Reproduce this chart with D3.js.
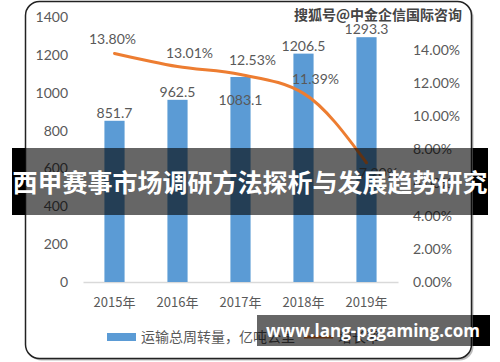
<!DOCTYPE html>
<html>
<head>
<meta charset="utf-8">
<script src="https://cdn.jsdelivr.net/npm/d3@7"></script>
<style>
  body { margin: 0; background: #fff; }
  svg { display: block; }
</style>
</head>
<body>
<script>
// chart data
const years = ["2015年", "2016年", "2017年", "2018年", "2019年"];
const volume = [851.7, 962.5, 1083.1, 1206.5, 1293.3];
const growth = [0.1380, 0.1301, 0.1253, 0.1139, 0.0720];
const leftTicks = [0, 200, 400, 600, 800, 1000, 1200, 1400];
const rightTicks = [0, 0.02, 0.04, 0.06, 0.08, 0.10, 0.12, 0.14];
const legendLabels = ["运输总周转量，亿吨公里", "增长率"];
const title = "西甲赛事市场调研方法探析与发展趋势研究";
const watermark = "搜狐号@中金企信国际咨询";
const site = "www.lang-pggaming.com";

const W = 500, H = 362;
const grey = "#595959";
const blue = "#5B9BD5";
const orange = "#ED7D31";
const numFont = "Lato, 'Liberation Sans', sans-serif";
const cjkFont = "'Noto Sans CJK SC', sans-serif";

const svg = d3.select("body").append("svg")
    .attr("width", W)
    .attr("height", H);

// frame with soft shadow
svg.append("rect")
    .attr("x", 27.5).attr("y", 3.5)
    .attr("width", 446).attr("height", 357)
    .attr("rx", 14)
    .attr("fill", "#bbb");
svg.append("rect")
    .attr("x", 25.5).attr("y", 1.5)
    .attr("width", 446).attr("height", 357)
    .attr("rx", 14)
    .attr("fill", "#fff")
    .attr("stroke", "#222")
    .attr("stroke-width", 1.5);

// scales
const x = d3.scaleBand()
    .domain(years)
    .range([83, 398])
    .paddingInner(0.68)
    .paddingOuter(0.34);

const yL = d3.scaleLinear().domain([0, 1400]).range([282, 17]);
const yR = d3.scaleLinear().domain([0, 0.16]).range([282, 17]);

// axes
const xAxis = svg.append("g")
    .attr("transform", "translate(0,282)")
    .call(d3.axisBottom(x).tickSize(0).tickPadding(16));
xAxis.select(".domain").attr("stroke", "#d9d9d9").attr("stroke-width", 1.5);
xAxis.selectAll("text")
    .attr("fill", grey)
    .style("font-family", cjkFont)
    .style("font-size", "13px");

const leftAxis = svg.append("g")
    .attr("transform", "translate(71,0)")
    .call(d3.axisLeft(yL).tickValues(leftTicks).tickSize(0).tickPadding(3)
        .tickFormat(d3.format("d")));
leftAxis.select(".domain").remove();
leftAxis.selectAll("text")
    .attr("fill", grey)
    .style("font-family", numFont)
    .style("font-size", "14px");

const rightAxis = svg.append("g")
    .attr("transform", "translate(410,0)")
    .call(d3.axisRight(yR).tickValues(rightTicks).tickSize(0).tickPadding(3)
        .tickFormat(d3.format(".2%")));
rightAxis.select(".domain").remove();
rightAxis.selectAll("text")
    .attr("fill", grey)
    .style("font-family", numFont)
    .style("font-size", "14px");

// bars
svg.selectAll(".bar")
    .data(volume)
    .enter()
    .append("rect")
    .attr("class", "bar")
    .attr("x", (d, i) => x(years[i]))
    .attr("y", d => yL(d))
    .attr("width", x.bandwidth())
    .attr("height", d => yL(0) - yL(d))
    .attr("fill", blue);

// growth line
const line = d3.line()
    .x((d, i) => x(years[i]) + x.bandwidth() / 2)
    .y(d => yR(d))
    .curve(d3.curveMonotoneX);

svg.append("path")
    .datum(growth)
    .attr("d", line)
    .attr("fill", "none")
    .attr("stroke", orange)
    .attr("stroke-width", 3)
    .attr("stroke-linecap", "round");

// line labels (last point sits low, so its label goes below)
const last = growth.length - 1;
const lineLabelY = growth.map((d, i) => i == last ? yR(d) + 15 : yR(d) - 9);
svg.selectAll(".glabel")
    .data(growth)
    .enter()
    .append("text")
    .attr("x", (d, i) => x(years[i]) + x.bandwidth() / 2 + (i == 0 ? -2 : 12))
    .attr("y", (d, i) => lineLabelY[i])
    .attr("text-anchor", "middle")
    .attr("fill", grey)
    .style("font-family", numFont)
    .style("font-size", "14px")
    .text(d => d3.format(".2%")(d));

// bar labels, pushed inside the bar when they would hit a line label
svg.selectAll(".blabel")
    .data(volume)
    .enter()
    .append("text")
    .attr("x", (d, i) => x(years[i]) + x.bandwidth() / 2)
    .attr("y", (d, i) => {
        let yy = yL(d) - 3;
        if (Math.abs(yy - lineLabelY[i]) < 14) yy = yL(d) + 28;
        return yy;
    })
    .attr("text-anchor", "middle")
    .attr("fill", grey)
    .style("font-family", numFont)
    .style("font-size", "14px")
    .text(d => d);

// legend
const lg = svg.append("g");
lg.append("rect")
    .attr("x", 107).attr("y", 333)
    .attr("width", 29).attr("height", 8)
    .attr("fill", blue);
lg.append("text")
    .attr("x", 141).attr("y", 342)
    .attr("fill", grey)
    .style("font-family", cjkFont)
    .style("font-size", "14px")
    .text(legendLabels[0]);
lg.append("line")
    .attr("x1", 304).attr("x2", 333)
    .attr("y1", 337).attr("y2", 337)
    .attr("stroke", orange)
    .attr("stroke-width", 3);
lg.append("text")
    .attr("x", 338).attr("y", 342)
    .attr("fill", grey)
    .style("font-family", cjkFont)
    .style("font-size", "14px")
    .text(legendLabels[1]);

// watermark top right
svg.append("text")
    .attr("x", 378).attr("y", 20)
    .attr("text-anchor", "middle")
    .attr("fill", "#444")
    .attr("stroke", "#fff")
    .attr("stroke-width", 2)
    .attr("paint-order", "stroke")
    .style("font-family", cjkFont)
    .style("font-size", "14px")
    .style("font-weight", "bold")
    .text(watermark);

// title banner
svg.append("rect")
    .attr("x", 12).attr("y", 148)
    .attr("width", 476).attr("height", 67)
    .attr("fill", "#000").attr("fill-opacity", 0.6);
svg.append("rect").attr("x", 12).attr("y", 148).attr("width", 13).attr("height", 67).attr("fill", "#000");
svg.append("rect").attr("x", 473).attr("y", 148).attr("width", 15).attr("height", 67).attr("fill", "#000");
svg.append("text")
    .attr("x", 250).attr("y", 192)
    .attr("text-anchor", "middle")
    .attr("fill", "#fff")
    .style("font-family", cjkFont)
    .style("font-size", "25px")
    .style("font-weight", "bold")
    .text(title);

// site banner
svg.append("rect")
    .attr("x", 257).attr("y", 315)
    .attr("width", 233).attr("height", 31)
    .attr("fill", "#000").attr("fill-opacity", 0.6);
svg.append("rect").attr("x", 473).attr("y", 315).attr("width", 17).attr("height", 31).attr("fill", "#000");
svg.append("text")
    .attr("x", 373).attr("y", 337)
    .attr("text-anchor", "middle")
    .attr("fill", "#fff")
    .style("font-family", "'Open Sans', sans-serif")
    .style("font-size", "17px")
    .style("font-weight", "bold")
    .text(site);
</script>
</body>
</html>
